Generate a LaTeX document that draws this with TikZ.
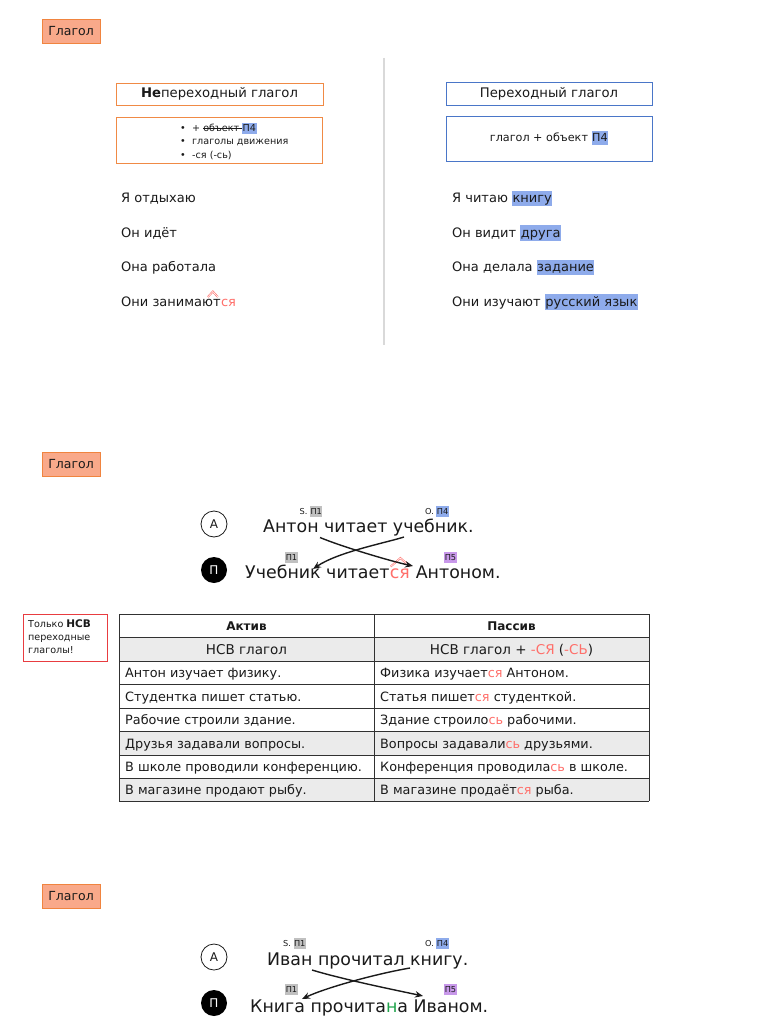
\documentclass[tikz,border=0pt]{standalone}
\usepackage{fontspec}
\setmainfont{DejaVu Sans}
\usetikzlibrary{arrows.meta,calc}
\definecolor{glfill}{HTML}{F9A98A}
\definecolor{glborder}{HTML}{F0843F}
\definecolor{orangeb}{HTML}{F08A45}
\definecolor{blueb}{HTML}{4A76C8}
\definecolor{hlblue}{HTML}{8EABEB}
\definecolor{hlgray}{HTML}{C0C0C0}
\definecolor{hlpurple}{HTML}{C898EA}
\definecolor{redtxt}{HTML}{FF6F6A}
\definecolor{rowgray}{HTML}{EBEBEB}
\definecolor{notered}{HTML}{E83C40}
\definecolor{greentxt}{HTML}{1FA34A}
\definecolor{divgray}{HTML}{D9D9D9}
\definecolor{txt}{HTML}{1A1A1A}
\setlength{\fboxsep}{0.5pt}
\newlength{\strklen}
\newcommand{\strk}[1]{\settowidth{\strklen}{#1}\rlap{\rule[0.3em]{\strklen}{0.6pt}}#1}
\newcommand{\hstrut}{\rule[-0.25em]{0pt}{1.1em}}
\newcommand{\lstrut}{\rule[-2.5pt]{0pt}{10pt}}
\newcommand{\hlb}[1]{\colorbox{hlblue}{\hstrut#1}}
\newcommand{\lhb}[1]{\colorbox{hlblue}{\lstrut#1}}
\newcommand{\lhg}[1]{\colorbox{hlgray}{\lstrut#1}}
\newcommand{\lhp}[1]{\colorbox{hlpurple}{\lstrut#1}}
\newcommand{\rd}[1]{\textcolor{redtxt}{#1}}
\begin{document}
\begin{tikzpicture}[x=1pt,y=-1pt,
  glbox/.style={draw=glborder, fill=glfill, line width=0.9pt, minimum width=58pt, minimum height=24pt, inner sep=0pt, font=\fontsize{12.5}{14}\selectfont, text=txt},
  obox/.style={draw=orangeb, line width=0.9pt, inner sep=0pt},
  bbox/.style={draw=blueb, line width=0.9pt, inner sep=0pt},
  sent/.style={anchor=base west, inner sep=0pt, font=\fontsize{13}{15}\selectfont, text=txt},
  bul/.style={anchor=base west, inner sep=0pt, font=\fontsize{9.6}{11}\selectfont, text=txt},
  lab/.style={anchor=base, inner sep=0pt, font=\fontsize{8.2}{9}\selectfont, text=txt},
  big/.style={anchor=base west, inner sep=0pt, font=\fontsize{17.4}{20}\selectfont, text=txt},
  cell/.style={anchor=base west, inner sep=0pt, font=\fontsize{12.8}{14}\selectfont, text=txt},
  hcell/.style={anchor=base, inner sep=0pt, font=\fontsize{12.8}{14}\selectfont, text=txt},
  notetx/.style={anchor=base west, inner sep=0pt, font=\fontsize{9.6}{11}\selectfont, text=txt},
  circA/.style={circle, draw=txt, line width=0.8pt, minimum size=26pt, inner sep=0pt, font=\fontsize{12}{13}\selectfont, text=txt},
  circP/.style={circle, fill=black, minimum size=26pt, inner sep=0pt, font=\fontsize{12}{13}\selectfont, text=white},
  arr/.style={-{Stealth[length=8pt,width=6.5pt]}, line width=1.4pt, draw=txt},
  grid/.style={draw=txt!90, line width=0.8pt},
  hatline/.style={draw=redtxt, line width=1.8pt, line join=miter},
  hatin/.style={draw=white, line width=0.6pt, line join=miter}
]
\useasboundingbox (0,0) rectangle (768,1024);
\fill[white] (0,0) rectangle (768,1024);

% ---------- section 1 ----------
\node[glbox] (g1) at (71,31) {Глагол};
\draw[divgray, line width=1.5pt] (384,58) -- (384,345);

\node[obox, minimum width=207pt, minimum height=22pt, font=\fontsize{13.2}{14}\selectfont, text=txt] (nt) at (219.5,94) {\textbf{Не}переходный глагол};
\node[obox, minimum width=206pt, minimum height=46pt] (ntl) at (219,140) {};
\node[bul] (d1) at (180,131.5) {\textbullet};
\node[bul] (d2) at (180,145) {\textbullet};
\node[bul] (d3) at (180,158.5) {\textbullet};
\node[bul] (b1) at (192,131.5) {+ \strk{объект }\lhb{П4}};
\node[bul] (b2) at (192,145) {глаголы движения};
\node[bul] (b3) at (192,158.5) {-ся (-сь)};

\node[bbox, minimum width=206pt, minimum height=23pt, font=\fontsize{13.2}{14}\selectfont, text=txt] (tr) at (549,93.5) {Переходный глагол};
\node[bbox, minimum width=206pt, minimum height=45pt, font=\fontsize{11.2}{13}\selectfont, text=txt] (trl) at (549,138.5) {глагол + объект \colorbox{hlblue}{\rule[-3pt]{0pt}{13pt}П4}};

\node[sent] (l1) at (121,202.5) {Я отдыхаю};
\node[sent] (l2) at (121,237) {Он идёт};
\node[sent] (l3) at (121,271.5) {Она работала};
\node[sent] (l4) at (121,306) {Они занимают};
\node[sent, text=redtxt] (l4s) at (l4.base east) {ся};
\coordinate (h1a) at ($(l4s.north west)+(-13,-1.5)$);
\coordinate (h1b) at ($(l4s.north west)+(-8,-7)$);
\coordinate (h1c) at ($(l4s.north west)+(-3,-1.5)$);
\draw[hatline] (h1a) -- (h1b) -- (h1c);
\draw[hatin] (h1a) -- (h1b) -- (h1c);

\node[sent] (r1) at (452,202.5) {Я читаю \hlb{книгу}};
\node[sent] (r2) at (452,237) {Он видит \hlb{друга}};
\node[sent] (r3) at (452,271.5) {Она делала \hlb{задание}};
\node[sent] (r4) at (452,306) {Они изучают \hlb{русский язык}};

% ---------- section 2 ----------
\node[glbox] (g2) at (71,464.5) {Глагол};
\node[circA] (ca2) at (214,524) {А};
\node[circP] (cp2) at (214,570) {П};
\node[lab] (s2) at (311,514) {S. \lhg{П1}};
\node[lab] (o2) at (437,514) {O. \lhb{П4}};
\node[lab] (p21) at (291.5,560) {\lhg{П1}};
\node[lab] (p25) at (450.5,560) {\lhp{П5}};
\node[big] (a2) at (263,532) {Антон читает учебник.};
\node[big] (p2) at (245,578) {Учебник читает};
\node[big, text=redtxt] (p2s) at (p2.base east) {ся};
\node[big] (p2e) at (p2s.base east) {\ Антоном.};
\coordinate (h2a) at ($(p2s.north west)+(1,-1.5)$);
\coordinate (h2b) at ($(p2s.north)+(0.5,-10)$);
\coordinate (h2c) at ($(p2s.north east)+(0,-1.5)$);
\draw[hatline] (h2a) -- (h2b) -- (h2c);
\draw[hatin] (h2a) -- (h2b) -- (h2c);
\coordinate (a2s) at (320,537.5);
\coordinate (a2e) at (413,566);
\coordinate (b2s) at (404,537);
\coordinate (b2e) at (313,569);
\draw[arr] (a2s) .. controls (340,546) and (390,561) .. (a2e);
\draw[arr] (b2s) .. controls (385,543) and (338,552) .. (b2e);

% ---------- table ----------
\fill[rowgray] (119,637.3) rectangle (649,661.5);
\fill[rowgray] (119,731.5) rectangle (649,755);
\fill[rowgray] (119,778.3) rectangle (649,801);
\foreach \yy in {614,637.3,661.5,684.5,708,731.5,755,778.3,801}
  \draw[grid] (119,\yy) -- (649,\yy);
\draw[grid] (119,614) -- (119,801);
\draw[grid] (374,614) -- (374,801);
\draw[grid] (649,614) -- (649,801);

\node[hcell, font=\bfseries\fontsize{12}{14}\selectfont] (h1) at (246.5,630.5) {Актив};
\node[hcell, font=\bfseries\fontsize{12}{14}\selectfont] (h2) at (511.5,630.5) {Пассив};
\node[hcell, font=\fontsize{13.5}{15}\selectfont] (k1) at (246.5,654.5) {НСВ глагол};
\node[hcell, font=\fontsize{13.5}{15}\selectfont] (k2) at (511.5,654.5) {НСВ глагол + \rd{-СЯ} (\rd{-СЬ})};

\node[cell] (ta1) at (125,677.5) {Антон изучает физику.};
\node[cell] (ta2) at (125,701) {Студентка пишет статью.};
\node[cell] (ta3) at (125,724.5) {Рабочие строили здание.};
\node[cell] (ta4) at (125,748) {Друзья задавали вопросы.};
\node[cell] (ta5) at (125,771.5) {В школе проводили конференцию.};
\node[cell] (ta6) at (125,794.5) {В магазине продают рыбу.};

\node[cell] (tb1) at (380,677.5) {Физика изучает\rd{ся} Антоном.};
\node[cell] (tb2) at (380,701) {Статья пишет\rd{ся} студенткой.};
\node[cell] (tb3) at (380,724.5) {Здание строило\rd{сь} рабочими.};
\node[cell] (tb4) at (380,748) {Вопросы задавали\rd{сь} друзьями.};
\node[cell] (tb5) at (380,771.5) {Конференция проводила\rd{сь} в школе.};
\node[cell] (tb6) at (380,794.5) {В магазине продаёт\rd{ся} рыба.};

\node[draw=notered, line width=1pt, minimum width=84pt, minimum height=47pt, inner sep=0pt] (note) at (65,637.5) {};
\node[notetx] (n1) at (28,627) {Только {\fontsize{10.5}{11}\selectfont\bfseries НСВ}};
\node[notetx] (n2) at (28,640) {переходные};
\node[notetx] (n3) at (28,653) {глаголы!};

% ---------- section 3 ----------
\node[glbox] (g3) at (71,896.5) {Глагол};
\node[circA] (ca3) at (214,957) {А};
\node[circP] (cp3) at (214,1003) {П};
\node[lab] (s3) at (294.5,946) {S. \lhg{П1}};
\node[lab] (o3) at (437,946) {O. \lhb{П4}};
\node[lab] (p31) at (291.5,992) {\lhg{П1}};
\node[lab] (p35) at (450.5,992) {\lhp{П5}};
\node[big] (a3) at (267,965) {Иван прочитал книгу.};
\node[big] (p3) at (250,1012) {Книга прочита\textcolor{greentxt}{н}а Иваном.};
\coordinate (a3s) at (312,970);
\coordinate (a3e) at (423,996);
\coordinate (b3s) at (410,968);
\coordinate (b3e) at (302,999);
\draw[arr] (a3s) .. controls (345,980) and (400,991) .. (a3e);
\draw[arr] (b3s) .. controls (375,974) and (325,988) .. (b3e);
\end{tikzpicture}
\end{document}
